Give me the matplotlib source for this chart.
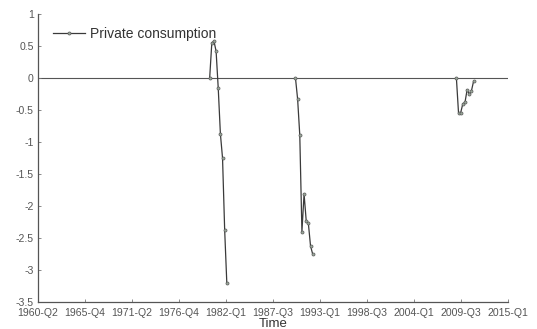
import numpy as np
import matplotlib
matplotlib.use("Agg")
import matplotlib.pyplot as plt

plt.rcParams['font.family'] = ['Liberation Sans', 'DejaVu Sans']

# Quarterly axis: index 0 = 1960-Q2, index 219 = 2015-Q1
n_quarters = 219
tick_labels = ['1960-Q2', '1965-Q4', '1971-Q2', '1976-Q4', '1982-Q1', '1987-Q3',
               '1993-Q1', '1998-Q3', '2004-Q1', '2009-Q3', '2015-Q1']

# Episodes of private consumption response (start quarter index, values)
episode1_start = 80
episode1_values = [0.0, 0.55, 0.58, 0.42, -0.16, -0.87, -1.25, -2.38, -3.21]
episode2_start = 120
episode2_values = [0.0, -0.33, -0.89, -2.40, -1.81, -2.23, -2.27, -2.62, -2.75]
episode3_start = 195
episode3_values = [0.0, -0.55, -0.54, -0.40, -0.38, -0.18, -0.25, -0.20, -0.05]

episodes = [(episode1_start, episode1_values),
            (episode2_start, episode2_values),
            (episode3_start, episode3_values)]

fig = plt.figure(figsize=(5.37, 3.29), dpi=100)
ax = fig.add_axes([0.0708, 0.082, 0.875, 0.875])

line_color = '#3a3a3a'
for i, (start, vals) in enumerate(episodes):
    x = np.arange(start, start + len(vals))
    ax.plot(x, vals, color=line_color, lw=0.9, marker='o', markersize=2.2,
            markerfacecolor='#9aa89a', markeredgecolor='#5a5a5a', markeredgewidth=0.5,
            label='Private consumption' if i == 0 else None)

ax.axhline(0, color='#555555', lw=0.8, zorder=0)

ax.set_xlim(0, n_quarters)
ax.set_ylim(-3.5, 1)
ax.set_xticks(np.linspace(0, n_quarters, len(tick_labels)))
ax.set_xticklabels(tick_labels)
ax.set_yticks(np.arange(-3.5, 1.01, 0.5))
ax.set_yticklabels(['-3.5', '-3', '-2.5', '-2', '-1.5', '-1', '-0.5', '0', '0.5', '1'])

for side in ['top', 'right']:
    ax.spines[side].set_visible(False)
for side in ['left', 'bottom']:
    ax.spines[side].set_color('#555555')
    ax.spines[side].set_linewidth(0.9)

ax.tick_params(direction='in', length=2.5, width=0.6, colors='#777777',
               labelsize=7.6, labelcolor='#555555')
ax.tick_params(axis='x', pad=4)
ax.tick_params(axis='y', pad=3)

ax.set_xlabel('Time', fontsize=9.5, color='#333333', labelpad=0)

ax.legend(loc='upper left', bbox_to_anchor=(0.005, 1.0), frameon=False,
          fontsize=10.0, handlelength=2.3, handletextpad=0.35, labelcolor='#333333')

fig.savefig('out.png', dpi=100, facecolor='white')
